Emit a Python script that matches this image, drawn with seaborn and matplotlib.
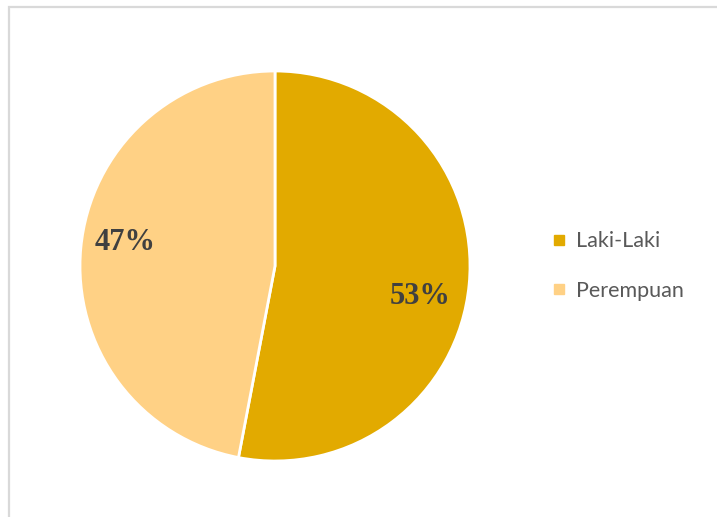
import matplotlib
matplotlib.use("Agg")
import matplotlib.pyplot as plt
import seaborn as sns
from matplotlib.patches import Rectangle
from matplotlib.lines import Line2D

categories = ["Laki-Laki", "Perempuan"]
values = [53, 47]
pct_labels = ["53%", "47%"]
colors = ["#E2AA00", "#FFD185"]

sns.set_theme(style="white")
plt.rcParams['font.family'] = ['Lato', 'DejaVu Sans']

W, H = 717, 517
fig = plt.figure(figsize=(W / 100, H / 100), dpi=100)
fig.patch.set_facecolor("white")

# chart border (extends beyond right/bottom edges)
fig.patches.append(Rectangle((9 / W, -0.1), 1.2, 1 - 7 / H + 0.1, transform=fig.transFigure,
                             fill=False, edgecolor="#d9d9d9", linewidth=1.6, zorder=0))

cx, cy, r = 275, 266, 195
ax = fig.add_axes([(cx - r) / W, (H - cy - r) / H, 2 * r / W, 2 * r / H])
wedges, _ = ax.pie(values, colors=colors, startangle=90, counterclock=False,
                   wedgeprops=dict(edgecolor="white", linewidth=2))
ax.set_xlim(-1, 1)
ax.set_ylim(-1, 1)
ax.set_aspect("equal")
ax.axis("off")

label_pos = [(0.744, -0.154), (-0.769, 0.118)]
for txt, (x, y) in zip(pct_labels, label_pos):
    ax.text(x, y, txt, ha="center", va="center", fontsize=22, fontweight="bold",
            family=["Liberation Serif", "DejaVu Serif"], color="#404040")

handles = [Line2D([0], [0], marker="s", linestyle="none", markersize=7,
                  markerfacecolor=c, markeredgecolor=c) for c in colors]
fig.legend(handles, categories, loc="center left", bbox_to_anchor=(537 / W, 1 - 266 / H),
           frameon=False, fontsize=15.5, labelcolor="#595959", handletextpad=0.3,
           labelspacing=1.35, handlelength=1.0, borderpad=0)

fig.savefig("out.png", dpi=100, facecolor="white")
